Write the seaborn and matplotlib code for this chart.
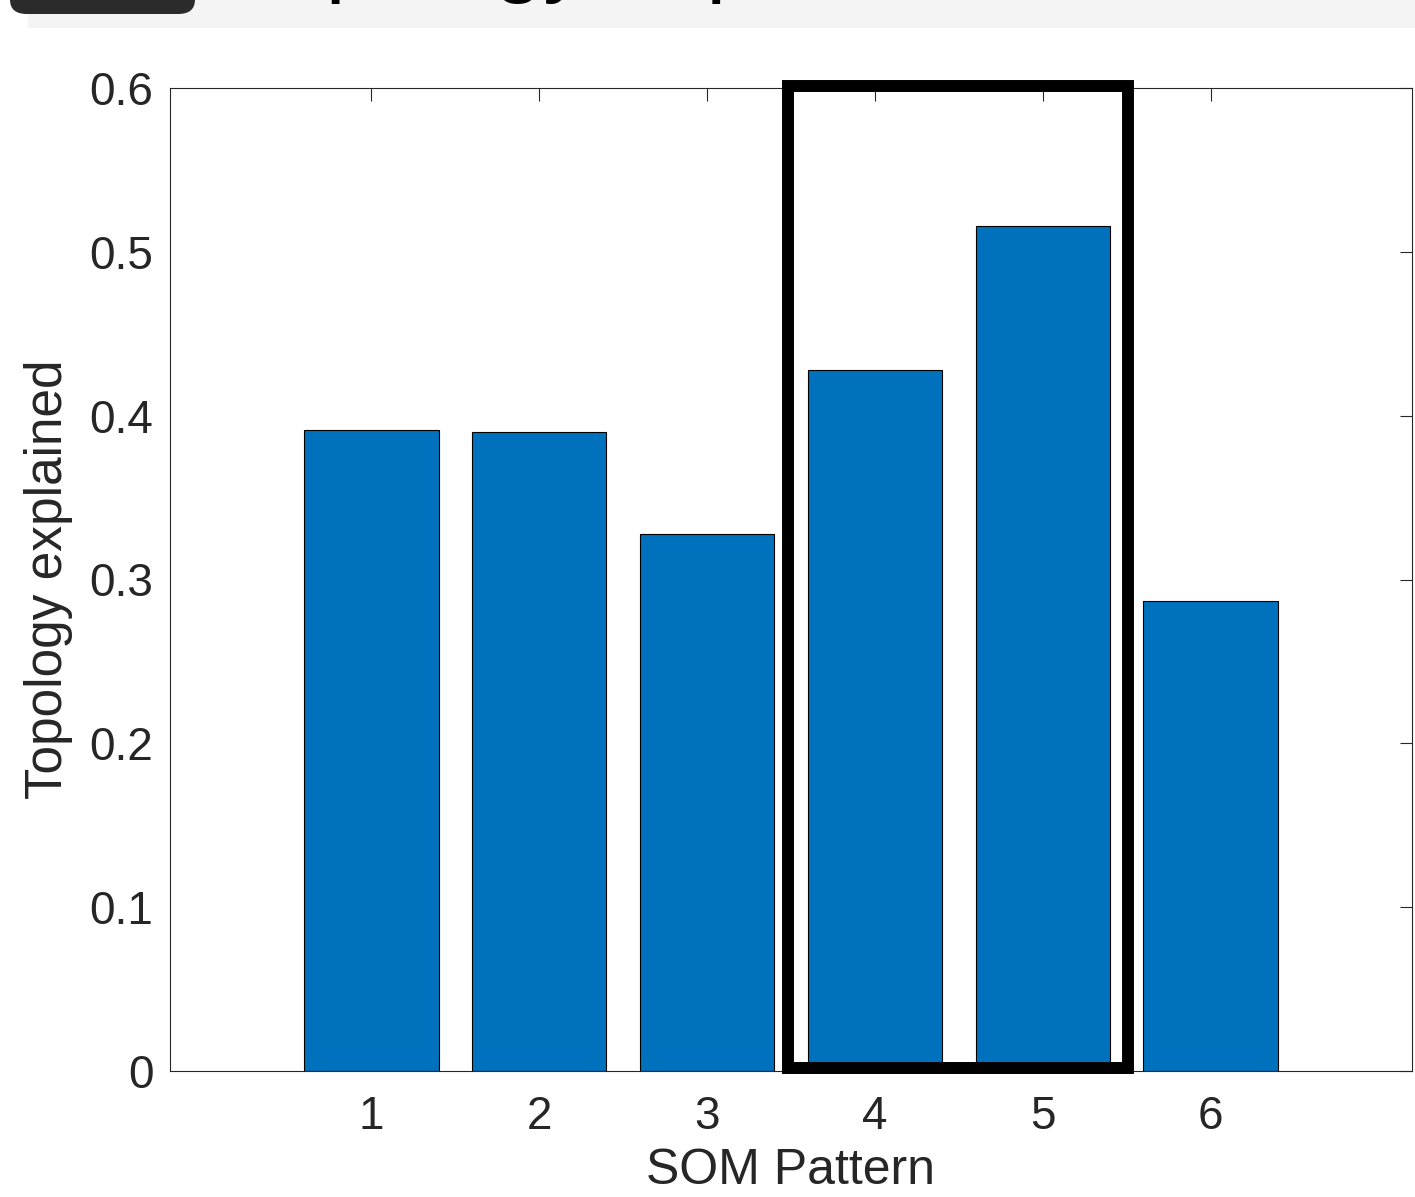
import numpy as np
import pandas as pd
import matplotlib
matplotlib.use("Agg")
import matplotlib.pyplot as plt
import seaborn as sns
from matplotlib.patches import Rectangle, FancyBboxPatch

patterns = [1, 2, 3, 4, 5, 6]
explained = [0.391, 0.390, 0.328, 0.428, 0.516, 0.287]
yticks = [0, 0.1, 0.2, 0.3, 0.4, 0.5, 0.6]
ytick_labels = ["0", "0.1", "0.2", "0.3", "0.4", "0.5", "0.6"]

sns.set_style("white")
plt.rcParams['font.family'] = ['Liberation Sans', 'DejaVu Sans']

df = pd.DataFrame({"SOM Pattern": patterns, "Topology explained": explained})

fig = plt.figure(figsize=(14.15, 11.97), dpi=100)

# cropped slide header strip at the top
fig.patches.append(Rectangle((0.02, 1 - 28 / 1197), 0.98, 28 / 1197, transform=fig.transFigure,
                             facecolor="#f4f4f4", edgecolor="none", zorder=0))
fig.patches.append(FancyBboxPatch((10 / 1415, 1 - 14 / 1197), 185 / 1415, 40 / 1197,
                                  boxstyle="round,pad=0,rounding_size=0.012",
                                  transform=fig.transFigure, facecolor="#2b2b2b",
                                  edgecolor="none", zorder=1))
fig.text(232 / 1415, 1 + 15 / 1197, "Topology explained", fontsize=64, color="black",
         ha="left", va="baseline", family=["Liberation Sans", "DejaVu Sans"])

ax = fig.add_axes([170 / 1415, 1 - 1071 / 1197, 1242 / 1415, 983 / 1197])
sns.barplot(data=df, x="SOM Pattern", y="Topology explained", native_scale=True,
            width=0.8, color="#0072BD", saturation=1, edgecolor="black",
            linewidth=0.8, ax=ax, errorbar=None)

ax.set_xlim(-0.2, 7.2)
ax.set_ylim(0, 0.6)
ax.set_xticks(patterns)
ax.set_xticklabels([str(p) for p in patterns])
ax.set_yticks(yticks)
ax.set_yticklabels(ytick_labels)
ax.tick_params(direction="in", top=True, right=True, length=9, width=0.8,
               colors="#262626", labelsize=33, pad=12)
ax.tick_params(axis="x", pad=17)
for s in ax.spines.values():
    s.set_color("#262626")
    s.set_linewidth(0.8)
ax.set_xlabel("SOM Pattern", fontsize=36, color="#262626", labelpad=7)
ax.set_ylabel("Topology explained", fontsize=37, color="#262626", labelpad=12)

# highlight box around patterns 4 and 5
ax.add_patch(Rectangle((3.485, 0.002), 2.025, 0.599, fill=False, edgecolor="black",
                       linewidth=8.6, clip_on=False, zorder=5))

fig.savefig("out.png", dpi=100)
